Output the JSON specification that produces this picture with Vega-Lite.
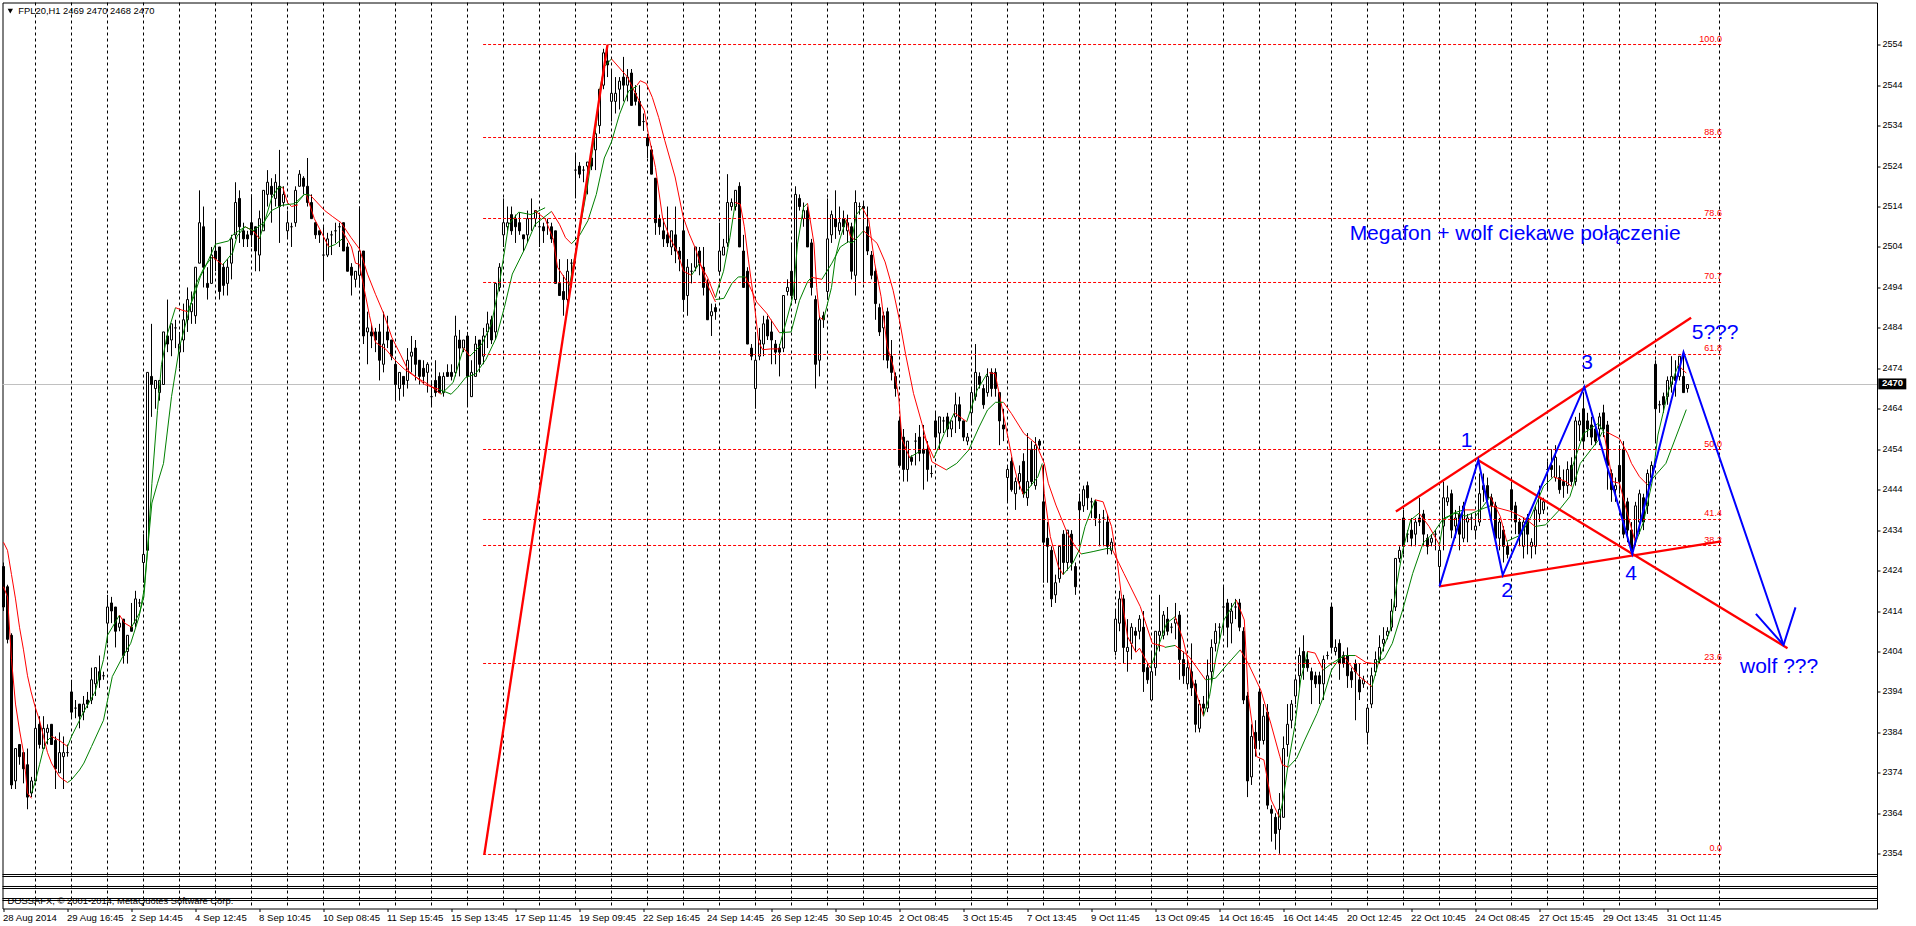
{"$schema":"https://vega.github.io/schema/vega-lite/v6.json","autosize":{"type":"none"},"padding":{"left":2.5,"top":2.5,"right":39,"bottom":17.5},"width":1874.5,"height":906,"background":"#ffffff","config":{"view":{"stroke":"#000000","strokeWidth":1},"font":"Liberation Sans"},
"datasets":{
"candles":[{"i":0,"o":2425,"h":2426,"l":2414,"c":2415},{"i":1,"o":2420,"h":2420.5,"l":2406,"c":2407},{"i":2,"o":2408,"h":2408.5,"l":2370,"c":2371},{"i":3,"o":2372,"h":2380,"l":2370,"c":2380},{"i":4,"o":2381,"h":2381,"l":2376,"c":2378},{"i":5,"o":2379,"h":2379,"l":2371.4,"c":2375},{"i":6,"o":2376,"h":2380,"l":2365,"c":2368},{"i":7,"o":2369,"h":2373,"l":2368,"c":2372},{"i":8,"o":2372,"h":2390,"l":2372,"c":2385},{"i":9,"o":2386,"h":2388,"l":2380,"c":2381},{"i":10,"o":2380,"h":2388,"l":2380,"c":2385},{"i":11,"o":2384,"h":2386,"l":2381,"c":2385},{"i":12,"o":2386,"h":2386,"l":2381,"c":2381},{"i":13,"o":2382,"h":2383,"l":2370,"c":2375},{"i":14,"o":2374,"h":2384,"l":2374,"c":2379},{"i":15,"o":2378,"h":2383,"l":2370,"c":2379},{"i":16,"o":2379,"h":2381,"l":2378,"c":2379},{"i":17,"o":2394,"h":2397,"l":2387.5,"c":2389},{"i":18,"o":2390,"h":2392,"l":2387.5,"c":2390},{"i":19,"o":2391,"h":2391,"l":2385,"c":2388},{"i":20,"o":2389,"h":2393,"l":2387,"c":2391},{"i":21,"o":2392,"h":2394,"l":2390,"c":2391},{"i":22,"o":2392,"h":2400,"l":2391,"c":2397},{"i":23,"o":2396,"h":2400,"l":2393,"c":2400},{"i":24,"o":2399,"h":2403,"l":2395,"c":2397},{"i":25,"o":2398,"h":2399,"l":2397,"c":2398},{"i":26,"o":2411,"h":2418,"l":2406,"c":2415},{"i":27,"o":2416,"h":2417.5,"l":2411,"c":2414},{"i":28,"o":2415,"h":2415,"l":2405,"c":2409},{"i":29,"o":2410,"h":2413,"l":2409,"c":2411},{"i":30,"o":2412,"h":2412,"l":2401,"c":2403},{"i":31,"o":2404,"h":2408,"l":2401,"c":2408},{"i":32,"o":2410,"h":2416,"l":2409,"c":2409},{"i":33,"o":2411,"h":2419,"l":2410,"c":2417},{"i":34,"o":2416,"h":2417,"l":2415,"c":2416},{"i":35,"o":2426,"h":2433,"l":2421,"c":2428},{"i":36,"o":2429,"h":2473,"l":2429,"c":2473},{"i":37,"o":2472,"h":2485,"l":2462,"c":2470},{"i":38,"o":2469,"h":2471,"l":2464,"c":2471},{"i":39,"o":2468,"h":2471,"l":2466,"c":2471},{"i":40,"o":2470,"h":2483,"l":2470,"c":2483},{"i":41,"o":2482,"h":2491,"l":2478,"c":2480},{"i":42,"o":2481,"h":2485,"l":2477,"c":2485},{"i":43,"o":2484,"h":2486,"l":2479,"c":2484},{"i":44,"o":2478,"h":2483,"l":2474,"c":2480},{"i":45,"o":2481,"h":2490,"l":2478,"c":2486},{"i":46,"o":2486,"h":2494,"l":2483,"c":2491},{"i":47,"o":2488,"h":2493,"l":2485,"c":2490},{"i":48,"o":2487,"h":2499,"l":2485,"c":2499},{"i":49,"o":2500,"h":2518,"l":2500,"c":2510},{"i":50,"o":2509,"h":2514,"l":2494,"c":2499},{"i":51,"o":2495,"h":2499,"l":2491,"c":2494},{"i":52,"o":2495,"h":2504,"l":2495,"c":2502},{"i":53,"o":2503,"h":2511,"l":2498,"c":2501},{"i":54,"o":2504,"h":2504,"l":2491,"c":2493},{"i":55,"o":2499,"h":2500,"l":2492,"c":2494.5},{"i":56,"o":2495,"h":2501,"l":2492,"c":2499},{"i":57,"o":2500,"h":2507,"l":2496,"c":2506},{"i":58,"o":2507,"h":2520,"l":2506,"c":2515},{"i":59,"o":2516,"h":2518,"l":2505,"c":2509},{"i":60,"o":2508,"h":2510,"l":2504,"c":2506},{"i":61,"o":2507,"h":2508,"l":2504,"c":2506},{"i":62,"o":2510,"h":2517,"l":2504,"c":2507},{"i":63,"o":2509,"h":2509,"l":2498,"c":2503},{"i":64,"o":2502,"h":2513,"l":2498,"c":2511},{"i":65,"o":2508,"h":2518,"l":2508,"c":2518},{"i":66,"o":2517,"h":2523,"l":2514,"c":2520},{"i":67,"o":2519,"h":2521,"l":2510,"c":2517},{"i":68,"o":2516,"h":2522,"l":2514,"c":2520},{"i":69,"o":2519,"h":2528,"l":2505,"c":2514},{"i":70,"o":2515,"h":2519,"l":2514,"c":2517},{"i":71,"o":2508,"h":2513,"l":2506,"c":2510},{"i":72,"o":2509,"h":2510,"l":2504,"c":2509},{"i":73,"o":2510,"h":2519,"l":2509,"c":2518},{"i":74,"o":2519,"h":2523,"l":2519,"c":2522},{"i":75,"o":2521,"h":2521.5,"l":2517,"c":2519},{"i":76,"o":2519,"h":2526,"l":2514,"c":2515},{"i":77,"o":2515,"h":2517,"l":2511,"c":2511},{"i":78,"o":2510,"h":2510,"l":2506,"c":2507},{"i":79,"o":2508,"h":2508,"l":2505,"c":2507},{"i":80,"o":2502,"h":2509,"l":2496,"c":2502},{"i":81,"o":2502,"h":2507.5,"l":2501.5,"c":2506},{"i":82,"o":2507,"h":2508,"l":2502,"c":2507},{"i":83,"o":2508,"h":2510,"l":2505,"c":2508},{"i":84,"o":2509,"h":2510,"l":2504,"c":2509},{"i":85,"o":2510,"h":2510,"l":2503,"c":2503},{"i":86,"o":2504,"h":2505,"l":2498,"c":2498},{"i":87,"o":2499,"h":2500,"l":2492,"c":2497},{"i":88,"o":2496,"h":2498,"l":2494,"c":2498},{"i":89,"o":2497,"h":2514,"l":2494,"c":2503},{"i":90,"o":2503,"h":2503,"l":2480,"c":2482},{"i":91,"o":2483,"h":2488,"l":2475,"c":2484},{"i":92,"o":2483,"h":2485,"l":2479,"c":2482},{"i":93,"o":2483,"h":2484,"l":2478,"c":2481},{"i":94,"o":2483,"h":2485,"l":2471,"c":2476},{"i":95,"o":2475,"h":2488,"l":2473,"c":2480},{"i":96,"o":2483,"h":2487,"l":2479,"c":2481},{"i":97,"o":2481,"h":2481,"l":2476,"c":2477},{"i":98,"o":2475,"h":2476,"l":2466,"c":2470},{"i":99,"o":2469,"h":2473,"l":2466,"c":2473},{"i":100,"o":2472,"h":2472,"l":2467,"c":2470},{"i":101,"o":2471,"h":2479,"l":2469,"c":2476},{"i":102,"o":2477,"h":2482,"l":2473,"c":2478},{"i":103,"o":2479,"h":2481,"l":2471,"c":2475},{"i":104,"o":2476,"h":2476,"l":2470,"c":2472},{"i":105,"o":2474,"h":2476,"l":2470,"c":2472},{"i":106,"o":2473,"h":2475.5,"l":2468,"c":2475},{"i":107,"o":2467,"h":2471,"l":2464.5,"c":2467},{"i":108,"o":2471,"h":2476,"l":2467,"c":2468},{"i":109,"o":2472,"h":2473,"l":2468,"c":2468},{"i":110,"o":2468,"h":2473,"l":2467,"c":2472},{"i":111,"o":2473,"h":2475,"l":2472,"c":2472},{"i":112,"o":2473,"h":2475,"l":2471,"c":2472},{"i":113,"o":2473,"h":2487,"l":2472,"c":2482},{"i":114,"o":2481,"h":2483.5,"l":2472,"c":2479},{"i":115,"o":2479,"h":2481,"l":2478,"c":2481},{"i":116,"o":2482,"h":2483,"l":2464.5,"c":2472},{"i":117,"o":2467,"h":2476,"l":2467,"c":2473},{"i":118,"o":2472,"h":2482,"l":2472,"c":2480},{"i":119,"o":2481,"h":2481,"l":2473,"c":2475},{"i":120,"o":2477,"h":2484,"l":2475,"c":2482},{"i":121,"o":2483,"h":2488,"l":2479,"c":2485},{"i":122,"o":2486,"h":2487,"l":2480,"c":2481},{"i":123,"o":2483,"h":2495,"l":2481,"c":2495},{"i":124,"o":2494,"h":2500,"l":2493,"c":2499},{"i":125,"o":2507,"h":2516,"l":2504,"c":2510},{"i":126,"o":2509,"h":2514,"l":2508,"c":2510},{"i":127,"o":2512,"h":2514,"l":2507,"c":2508},{"i":128,"o":2511,"h":2512,"l":2505,"c":2509},{"i":129,"o":2510,"h":2512.5,"l":2507,"c":2508},{"i":130,"o":2507,"h":2507,"l":2503,"c":2506},{"i":131,"o":2507,"h":2513,"l":2505,"c":2511},{"i":132,"o":2511,"h":2516,"l":2508,"c":2511},{"i":133,"o":2511,"h":2513,"l":2509,"c":2513},{"i":134,"o":2509,"h":2512,"l":2504,"c":2509},{"i":135,"o":2509,"h":2510,"l":2505,"c":2508},{"i":136,"o":2510,"h":2511,"l":2507,"c":2510},{"i":137,"o":2509,"h":2510,"l":2505,"c":2506},{"i":138,"o":2508,"h":2508,"l":2495,"c":2495},{"i":139,"o":2495,"h":2501,"l":2492,"c":2492},{"i":140,"o":2493,"h":2497,"l":2487,"c":2491},{"i":141,"o":2491,"h":2501,"l":2489,"c":2498},{"i":142,"o":2500,"h":2501,"l":2494,"c":2500},{"i":143,"o":2523,"h":2527,"l":2516,"c":2523},{"i":144,"o":2524,"h":2525,"l":2521,"c":2522},{"i":145,"o":2523,"h":2524,"l":2520,"c":2523},{"i":146,"o":2524,"h":2525,"l":2517,"c":2525},{"i":147,"o":2526,"h":2528,"l":2523,"c":2524},{"i":148,"o":2528,"h":2533,"l":2523,"c":2532},{"i":149,"o":2534,"h":2543,"l":2532,"c":2543},{"i":150,"o":2544,"h":2553,"l":2543,"c":2552},{"i":151,"o":2550,"h":2554,"l":2546,"c":2549},{"i":152,"o":2540,"h":2548,"l":2535,"c":2542},{"i":153,"o":2540,"h":2546,"l":2537,"c":2542},{"i":154,"o":2543,"h":2546,"l":2538,"c":2545},{"i":155,"o":2546,"h":2551,"l":2540,"c":2544},{"i":156,"o":2544,"h":2548,"l":2540,"c":2546},{"i":157,"o":2547,"h":2548,"l":2539,"c":2539},{"i":158,"o":2542,"h":2544,"l":2539,"c":2540},{"i":159,"o":2540,"h":2544,"l":2534,"c":2534},{"i":160,"o":2535,"h":2537,"l":2532.7,"c":2535},{"i":161,"o":2531,"h":2532,"l":2526,"c":2529},{"i":162,"o":2528,"h":2529,"l":2522,"c":2522},{"i":163,"o":2521,"h":2521,"l":2507,"c":2510},{"i":164,"o":2511,"h":2512,"l":2507,"c":2509},{"i":165,"o":2508,"h":2511,"l":2504,"c":2506},{"i":166,"o":2507,"h":2514,"l":2504,"c":2505},{"i":167,"o":2504,"h":2508,"l":2502,"c":2508},{"i":168,"o":2507,"h":2514,"l":2500,"c":2503},{"i":169,"o":2503,"h":2504,"l":2498,"c":2501},{"i":170,"o":2508,"h":2511,"l":2488,"c":2491},{"i":171,"o":2492,"h":2501,"l":2487,"c":2499},{"i":172,"o":2498,"h":2500,"l":2495,"c":2498},{"i":173,"o":2499,"h":2504,"l":2498,"c":2504},{"i":174,"o":2503,"h":2504,"l":2497,"c":2500},{"i":175,"o":2499,"h":2504,"l":2492,"c":2494},{"i":176,"o":2495,"h":2496,"l":2486,"c":2486},{"i":177,"o":2487,"h":2490,"l":2482,"c":2488},{"i":178,"o":2489,"h":2490,"l":2486,"c":2488},{"i":179,"o":2498,"h":2510,"l":2497,"c":2503},{"i":180,"o":2502,"h":2506,"l":2502,"c":2504},{"i":181,"o":2505,"h":2522,"l":2504,"c":2515},{"i":182,"o":2514,"h":2516,"l":2513,"c":2515},{"i":183,"o":2514,"h":2518,"l":2513,"c":2518},{"i":184,"o":2519,"h":2520,"l":2504,"c":2504},{"i":185,"o":2503,"h":2507,"l":2494,"c":2494},{"i":186,"o":2498,"h":2499,"l":2480,"c":2480},{"i":187,"o":2479,"h":2480,"l":2476,"c":2477},{"i":188,"o":2469,"h":2483,"l":2464,"c":2476},{"i":189,"o":2477,"h":2484,"l":2476,"c":2481},{"i":190,"o":2480,"h":2487,"l":2477,"c":2485},{"i":191,"o":2486,"h":2487,"l":2481,"c":2482},{"i":192,"o":2483,"h":2486,"l":2475,"c":2481},{"i":193,"o":2480,"h":2481,"l":2475,"c":2478},{"i":194,"o":2479,"h":2480,"l":2472,"c":2478},{"i":195,"o":2479,"h":2492,"l":2478,"c":2492},{"i":196,"o":2493,"h":2496,"l":2492,"c":2494},{"i":197,"o":2498,"h":2505,"l":2491,"c":2492},{"i":198,"o":2491,"h":2519,"l":2490,"c":2517},{"i":199,"o":2516,"h":2517,"l":2513,"c":2514},{"i":200,"o":2511,"h":2515,"l":2509,"c":2513},{"i":201,"o":2513,"h":2514,"l":2504,"c":2504},{"i":202,"o":2505,"h":2506,"l":2492,"c":2494},{"i":203,"o":2491,"h":2492,"l":2469,"c":2475},{"i":204,"o":2476,"h":2487,"l":2472,"c":2486},{"i":205,"o":2487,"h":2488,"l":2484,"c":2486},{"i":206,"o":2493,"h":2516,"l":2491,"c":2506},{"i":207,"o":2507,"h":2513,"l":2505,"c":2512},{"i":208,"o":2511,"h":2518,"l":2506,"c":2509},{"i":209,"o":2508,"h":2514,"l":2507,"c":2510},{"i":210,"o":2511,"h":2513,"l":2507,"c":2509},{"i":211,"o":2508,"h":2512,"l":2505,"c":2510},{"i":212,"o":2509,"h":2510,"l":2496,"c":2498},{"i":213,"o":2497,"h":2518,"l":2492,"c":2515},{"i":214,"o":2514,"h":2515,"l":2512,"c":2514},{"i":215,"o":2514,"h":2515,"l":2495,"c":2513.5},{"i":216,"o":2509,"h":2514,"l":2502,"c":2503},{"i":217,"o":2502,"h":2503,"l":2496,"c":2497},{"i":218,"o":2498,"h":2499,"l":2486,"c":2490},{"i":219,"o":2489,"h":2490,"l":2482,"c":2483},{"i":220,"o":2484,"h":2488,"l":2476,"c":2487},{"i":221,"o":2488,"h":2489,"l":2474,"c":2476},{"i":222,"o":2477,"h":2481,"l":2471,"c":2473},{"i":223,"o":2472,"h":2473,"l":2467,"c":2469},{"i":224,"o":2461,"h":2462,"l":2449.5,"c":2450},{"i":225,"o":2457,"h":2459,"l":2446,"c":2449},{"i":226,"o":2449,"h":2456,"l":2446,"c":2456},{"i":227,"o":2452,"h":2452.5,"l":2450,"c":2451},{"i":228,"o":2456,"h":2458,"l":2450,"c":2456},{"i":229,"o":2457,"h":2460,"l":2451,"c":2453},{"i":230,"o":2454,"h":2460,"l":2444,"c":2453},{"i":231,"o":2454,"h":2456,"l":2446,"c":2449},{"i":232,"o":2448,"h":2450,"l":2447,"c":2448},{"i":233,"o":2461,"h":2463,"l":2454,"c":2457},{"i":234,"o":2458,"h":2462,"l":2454,"c":2462},{"i":235,"o":2461,"h":2462,"l":2458,"c":2461},{"i":236,"o":2462,"h":2463,"l":2457,"c":2459},{"i":237,"o":2459,"h":2461,"l":2457,"c":2461},{"i":238,"o":2462,"h":2468,"l":2458,"c":2465},{"i":239,"o":2465,"h":2467,"l":2459,"c":2461},{"i":240,"o":2461,"h":2461,"l":2456,"c":2457},{"i":241,"o":2456,"h":2458,"l":2455,"c":2457},{"i":242,"o":2463,"h":2469,"l":2460,"c":2468},{"i":243,"o":2467,"h":2480,"l":2466,"c":2473},{"i":244,"o":2472,"h":2473,"l":2469,"c":2470},{"i":245,"o":2469,"h":2470,"l":2464,"c":2465},{"i":246,"o":2468,"h":2474,"l":2467,"c":2472},{"i":247,"o":2473,"h":2474,"l":2467,"c":2469},{"i":248,"o":2473,"h":2474,"l":2467,"c":2469},{"i":249,"o":2468,"h":2468,"l":2455,"c":2461},{"i":250,"o":2460,"h":2464,"l":2456,"c":2459},{"i":251,"o":2447,"h":2450,"l":2441,"c":2449},{"i":252,"o":2451,"h":2452,"l":2443.5,"c":2444},{"i":253,"o":2443,"h":2447,"l":2439,"c":2446},{"i":254,"o":2446,"h":2450,"l":2444,"c":2448},{"i":255,"o":2451,"h":2453,"l":2442,"c":2443},{"i":256,"o":2442,"h":2458,"l":2440,"c":2446},{"i":257,"o":2454,"h":2456,"l":2445,"c":2446},{"i":258,"o":2445,"h":2457,"l":2444,"c":2455},{"i":259,"o":2456,"h":2456.5,"l":2454,"c":2455},{"i":260,"o":2441,"h":2450,"l":2421,"c":2431},{"i":261,"o":2432,"h":2436,"l":2421,"c":2430},{"i":262,"o":2429,"h":2430,"l":2415,"c":2417},{"i":263,"o":2418,"h":2423,"l":2416,"c":2421},{"i":264,"o":2422,"h":2430,"l":2421,"c":2430},{"i":265,"o":2433,"h":2434,"l":2423,"c":2426},{"i":266,"o":2426,"h":2434,"l":2424,"c":2434},{"i":267,"o":2433,"h":2434,"l":2424,"c":2426},{"i":268,"o":2425,"h":2426,"l":2418,"c":2420},{"i":269,"o":2441,"h":2443,"l":2430,"c":2439},{"i":270,"o":2440,"h":2445,"l":2438.5,"c":2444},{"i":271,"o":2445,"h":2446,"l":2439,"c":2442},{"i":272,"o":2441,"h":2442,"l":2437,"c":2441},{"i":273,"o":2441,"h":2441.5,"l":2435,"c":2437},{"i":274,"o":2436,"h":2438,"l":2430,"c":2436},{"i":275,"o":2437,"h":2439,"l":2430,"c":2437},{"i":276,"o":2436,"h":2438,"l":2428,"c":2430},{"i":277,"o":2429,"h":2432,"l":2428,"c":2431},{"i":278,"o":2404,"h":2414,"l":2403,"c":2412},{"i":279,"o":2411,"h":2419,"l":2409,"c":2417},{"i":280,"o":2417,"h":2418,"l":2401,"c":2405},{"i":281,"o":2404,"h":2412,"l":2399,"c":2405},{"i":282,"o":2406,"h":2411,"l":2402,"c":2410},{"i":283,"o":2409,"h":2410,"l":2404,"c":2408},{"i":284,"o":2409,"h":2413,"l":2407,"c":2412},{"i":285,"o":2410,"h":2414,"l":2394,"c":2399},{"i":286,"o":2400,"h":2401,"l":2396,"c":2397},{"i":287,"o":2392,"h":2404,"l":2392,"c":2399},{"i":288,"o":2400,"h":2409,"l":2398,"c":2409},{"i":289,"o":2408,"h":2418,"l":2404,"c":2409},{"i":290,"o":2408,"h":2414,"l":2407,"c":2413},{"i":291,"o":2412,"h":2415,"l":2408,"c":2409},{"i":292,"o":2410,"h":2411,"l":2408.5,"c":2410},{"i":293,"o":2411,"h":2416,"l":2407,"c":2412},{"i":294,"o":2413,"h":2414,"l":2397,"c":2402},{"i":295,"o":2402,"h":2404,"l":2396,"c":2398},{"i":296,"o":2396,"h":2402,"l":2395,"c":2400},{"i":297,"o":2399,"h":2406,"l":2393,"c":2395},{"i":298,"o":2396,"h":2397,"l":2384,"c":2386},{"i":299,"o":2385,"h":2392,"l":2384,"c":2391},{"i":300,"o":2391,"h":2393,"l":2388,"c":2390},{"i":301,"o":2390,"h":2402,"l":2389,"c":2398},{"i":302,"o":2399,"h":2407,"l":2396,"c":2405},{"i":303,"o":2406,"h":2411,"l":2404,"c":2409},{"i":304,"o":2410,"h":2411,"l":2406,"c":2410},{"i":305,"o":2415,"h":2420,"l":2408,"c":2415},{"i":306,"o":2416,"h":2417,"l":2405,"c":2410},{"i":307,"o":2411,"h":2416,"l":2406,"c":2414},{"i":308,"o":2415,"h":2417,"l":2412,"c":2415},{"i":309,"o":2416,"h":2417,"l":2409,"c":2410},{"i":310,"o":2409,"h":2410,"l":2391,"c":2392},{"i":311,"o":2393,"h":2394,"l":2368,"c":2372},{"i":312,"o":2373,"h":2386,"l":2371,"c":2383},{"i":313,"o":2384,"h":2387,"l":2378,"c":2380},{"i":314,"o":2394,"h":2395,"l":2380,"c":2382},{"i":315,"o":2382,"h":2391,"l":2381,"c":2388},{"i":316,"o":2389,"h":2391,"l":2365,"c":2366},{"i":317,"o":2365,"h":2366,"l":2357,"c":2364},{"i":318,"o":2363,"h":2364,"l":2355,"c":2359},{"i":319,"o":2360,"h":2369,"l":2354,"c":2365},{"i":320,"o":2363,"h":2383,"l":2363,"c":2380},{"i":321,"o":2381,"h":2391,"l":2378,"c":2386},{"i":322,"o":2387,"h":2392,"l":2385,"c":2391},{"i":323,"o":2393,"h":2398,"l":2391,"c":2397},{"i":324,"o":2398,"h":2405,"l":2395,"c":2403},{"i":325,"o":2404,"h":2408,"l":2397,"c":2400},{"i":326,"o":2402,"h":2404,"l":2399,"c":2400},{"i":327,"o":2399,"h":2400,"l":2391,"c":2397},{"i":328,"o":2398,"h":2399,"l":2395,"c":2396},{"i":329,"o":2398,"h":2399,"l":2391,"c":2396},{"i":330,"o":2396,"h":2403,"l":2392,"c":2402},{"i":331,"o":2403,"h":2404,"l":2402,"c":2403},{"i":332,"o":2415,"h":2415.5,"l":2404,"c":2405},{"i":333,"o":2404,"h":2407,"l":2403,"c":2405},{"i":334,"o":2406,"h":2407,"l":2397,"c":2401},{"i":335,"o":2403,"h":2404,"l":2400,"c":2401},{"i":336,"o":2403,"h":2405,"l":2395,"c":2398},{"i":337,"o":2399,"h":2400,"l":2395,"c":2397},{"i":338,"o":2401,"h":2402,"l":2387,"c":2399},{"i":339,"o":2397,"h":2401,"l":2392,"c":2394},{"i":340,"o":2396,"h":2398,"l":2395,"c":2397},{"i":341,"o":2384,"h":2391,"l":2381,"c":2390},{"i":342,"o":2391,"h":2400,"l":2390,"c":2398},{"i":343,"o":2399,"h":2404,"l":2398,"c":2402},{"i":344,"o":2402,"h":2408,"l":2401,"c":2405},{"i":345,"o":2406,"h":2410,"l":2404,"c":2407},{"i":346,"o":2408,"h":2410,"l":2407,"c":2409},{"i":347,"o":2410,"h":2417,"l":2409,"c":2414},{"i":348,"o":2415,"h":2427,"l":2414,"c":2427},{"i":349,"o":2427,"h":2430,"l":2426,"c":2429},{"i":350,"o":2437,"h":2439,"l":2428,"c":2430},{"i":351,"o":2433,"h":2434,"l":2431,"c":2433},{"i":352,"o":2434,"h":2437,"l":2430,"c":2432},{"i":353,"o":2433,"h":2437,"l":2430,"c":2436},{"i":354,"o":2437,"h":2442,"l":2435,"c":2436},{"i":355,"o":2438,"h":2439,"l":2430,"c":2433},{"i":356,"o":2432,"h":2433,"l":2428,"c":2430},{"i":357,"o":2431,"h":2433,"l":2430,"c":2432},{"i":358,"o":2433,"h":2434,"l":2429,"c":2433},{"i":359,"o":2425,"h":2431,"l":2420,"c":2429},{"i":360,"o":2435,"h":2446,"l":2429,"c":2442},{"i":361,"o":2441,"h":2445,"l":2440,"c":2442},{"i":362,"o":2443,"h":2444,"l":2432,"c":2434},{"i":363,"o":2435,"h":2439,"l":2432,"c":2437},{"i":364,"o":2438,"h":2440,"l":2429,"c":2433},{"i":365,"o":2432,"h":2441,"l":2431,"c":2440},{"i":366,"o":2436,"h":2438,"l":2431,"c":2437},{"i":367,"o":2437,"h":2438,"l":2434,"c":2437},{"i":368,"o":2434,"h":2438,"l":2432,"c":2435},{"i":369,"o":2436,"h":2448,"l":2435,"c":2443},{"i":370,"o":2445,"h":2448,"l":2441,"c":2444},{"i":371,"o":2445,"h":2447,"l":2441,"c":2442},{"i":372,"o":2442,"h":2443,"l":2436,"c":2440},{"i":373,"o":2440,"h":2441,"l":2431,"c":2432},{"i":374,"o":2432,"h":2437,"l":2429,"c":2436},{"i":375,"o":2434,"h":2435,"l":2426,"c":2430},{"i":376,"o":2430,"h":2431,"l":2427,"c":2428},{"i":377,"o":2444,"h":2446,"l":2437,"c":2439},{"i":378,"o":2440,"h":2441,"l":2433,"c":2436},{"i":379,"o":2436,"h":2437,"l":2430,"c":2433},{"i":380,"o":2430,"h":2437,"l":2427,"c":2436},{"i":381,"o":2437,"h":2438,"l":2428,"c":2433},{"i":382,"o":2430,"h":2432,"l":2427,"c":2431},{"i":383,"o":2430,"h":2440,"l":2428,"c":2439},{"i":384,"o":2438,"h":2445,"l":2436,"c":2442},{"i":385,"o":2439,"h":2442,"l":2438,"c":2441},{"i":386,"o":2449,"h":2451,"l":2444,"c":2449},{"i":387,"o":2450,"h":2454,"l":2447,"c":2449},{"i":388,"o":2447,"h":2455,"l":2446,"c":2452},{"i":389,"o":2447,"h":2450,"l":2443,"c":2444},{"i":390,"o":2446,"h":2449,"l":2442,"c":2445},{"i":391,"o":2445,"h":2451,"l":2443,"c":2449},{"i":392,"o":2450,"h":2452,"l":2445,"c":2446},{"i":393,"o":2446,"h":2462,"l":2445,"c":2461},{"i":394,"o":2460,"h":2463,"l":2456,"c":2461},{"i":395,"o":2464,"h":2468,"l":2454,"c":2456},{"i":396,"o":2461,"h":2463,"l":2457,"c":2459},{"i":397,"o":2460,"h":2462,"l":2455,"c":2457},{"i":398,"o":2459,"h":2460,"l":2455,"c":2456},{"i":399,"o":2459,"h":2463,"l":2455,"c":2462},{"i":400,"o":2463,"h":2465,"l":2457,"c":2459},{"i":401,"o":2460,"h":2461,"l":2444,"c":2450},{"i":402,"o":2448,"h":2449,"l":2441,"c":2444},{"i":403,"o":2444,"h":2447,"l":2441,"c":2445},{"i":404,"o":2450,"h":2455,"l":2443,"c":2446},{"i":405,"o":2454,"h":2456,"l":2432,"c":2433},{"i":406,"o":2441,"h":2442,"l":2431,"c":2434},{"i":407,"o":2434,"h":2436,"l":2428,"c":2429},{"i":408,"o":2432,"h":2441,"l":2430,"c":2440},{"i":409,"o":2436,"h":2444,"l":2433,"c":2443},{"i":410,"o":2442,"h":2443,"l":2434,"c":2436},{"i":411,"o":2440,"h":2449,"l":2438,"c":2448},{"i":412,"o":2447,"h":2451,"l":2446,"c":2450},{"i":413,"o":2475,"h":2476,"l":2456,"c":2464},{"i":414,"o":2465,"h":2466,"l":2463,"c":2465},{"i":415,"o":2467,"h":2468,"l":2463,"c":2465},{"i":416,"o":2467,"h":2472,"l":2465,"c":2471},{"i":417,"o":2470,"h":2477,"l":2468,"c":2472},{"i":418,"o":2472,"h":2476,"l":2467,"c":2471},{"i":419,"o":2472,"h":2477,"l":2471,"c":2477},{"i":420,"o":2472,"h":2478,"l":2468,"c":2468},{"i":421,"o":2469,"h":2470,"l":2468,"c":2470}],
"ma":[{"s":"a1","d":"r","i":0,"p":2420},{"s":"a1","d":"r","i":1,"p":2417.5},{"s":"a1","d":"r","i":2,"p":2402},{"s":"a1","d":"r","i":3,"p":2391},{"s":"a1","d":"r","i":4,"p":2384.6},{"s":"a1","d":"r","i":5,"p":2379},{"s":"a1","d":"r","i":6,"p":2369},{"s":"a1","d":"r","i":7,"p":2367.7},
{"s":"a2","d":"g","i":7,"p":2369},{"s":"a2","d":"g","i":8,"p":2372},{"s":"a2","d":"g","i":9,"p":2376},{"s":"a2","d":"g","i":10,"p":2380},{"s":"a2","d":"g","i":11,"p":2382},{"s":"a2","d":"g","i":12,"p":2383},
{"s":"a3","d":"r","i":12,"p":2383},{"s":"a3","d":"r","i":14,"p":2382},{"s":"a3","d":"r","i":16,"p":2380.5},
{"s":"a4","d":"g","i":16,"p":2380.5},{"s":"a4","d":"g","i":17,"p":2383},{"s":"a4","d":"g","i":20,"p":2389},{"s":"a4","d":"g","i":22.9,"p":2394},{"s":"a4","d":"g","i":25,"p":2402},{"s":"a4","d":"g","i":26,"p":2408},{"s":"a4","d":"g","i":27.2,"p":2410},{"s":"a4","d":"g","i":29,"p":2413},
{"s":"a5","d":"r","i":29,"p":2413},{"s":"a5","d":"r","i":30.3,"p":2411},{"s":"a5","d":"r","i":32,"p":2410},
{"s":"a6","d":"g","i":32,"p":2410},{"s":"a6","d":"g","i":34,"p":2413.5},{"s":"a6","d":"g","i":35.1,"p":2417.5},{"s":"a6","d":"g","i":36,"p":2429},{"s":"a6","d":"g","i":37.1,"p":2445.5},{"s":"a6","d":"g","i":38.5,"p":2463.6},{"s":"a6","d":"g","i":39.5,"p":2475},{"s":"a6","d":"g","i":41,"p":2482.6},{"s":"a6","d":"g","i":43,"p":2489},
{"s":"a7","d":"r","i":43,"p":2489},{"s":"a7","d":"r","i":44.6,"p":2488.4},{"s":"a7","d":"r","i":46,"p":2488},
{"s":"a8","d":"g","i":46,"p":2488},{"s":"a8","d":"g","i":47.6,"p":2491.7},{"s":"a8","d":"g","i":49.2,"p":2496.6},{"s":"a8","d":"g","i":51.2,"p":2500.7},{"s":"a8","d":"g","i":53,"p":2504.7},{"s":"a8","d":"g","i":56.3,"p":2505.5},{"s":"a8","d":"g","i":57.3,"p":2507},{"s":"a8","d":"g","i":60.4,"p":2509},
{"s":"a9","d":"r","i":60.4,"p":2509},{"s":"a9","d":"r","i":62.4,"p":2508},{"s":"a9","d":"r","i":64,"p":2506},
{"s":"a10","d":"g","i":64,"p":2506},{"s":"a10","d":"g","i":65.5,"p":2511},{"s":"a10","d":"g","i":67,"p":2516},{"s":"a10","d":"g","i":68.6,"p":2518.6},{"s":"a10","d":"g","i":69.8,"p":2518.8},
{"s":"a11","d":"r","i":69.8,"p":2518.8},{"s":"a11","d":"r","i":71,"p":2515},{"s":"a11","d":"r","i":72,"p":2514},{"s":"a11","d":"r","i":73.6,"p":2514.4},
{"s":"a12","d":"g","i":73,"p":2514.4},{"s":"a12","d":"g","i":75.2,"p":2517},
{"s":"a13","d":"r","i":75.7,"p":2517},{"s":"a13","d":"r","i":77.7,"p":2511},{"s":"a13","d":"r","i":79.8,"p":2507},{"s":"a13","d":"r","i":81.3,"p":2504},
{"s":"a14","d":"g","i":81.3,"p":2504},{"s":"a14","d":"g","i":82.9,"p":2504.6},{"s":"a14","d":"g","i":84.7,"p":2506},
{"s":"a15","d":"r","i":84.7,"p":2508},{"s":"a15","d":"r","i":87,"p":2504},{"s":"a15","d":"r","i":88,"p":2500},{"s":"a15","d":"r","i":89,"p":2499.7},{"s":"a15","d":"r","i":90,"p":2494.5},{"s":"a15","d":"r","i":91.5,"p":2487},{"s":"a15","d":"r","i":93,"p":2480.4},{"s":"a15","d":"r","i":95.6,"p":2478.7},{"s":"a15","d":"r","i":97.7,"p":2476.2},{"s":"a15","d":"r","i":100.2,"p":2473.8},{"s":"a15","d":"r","i":103.3,"p":2471.7},{"s":"a15","d":"r","i":106.3,"p":2470},{"s":"a15","d":"r","i":109.4,"p":2467.6},
{"s":"a16","d":"g","i":109.4,"p":2467.6},{"s":"a16","d":"g","i":112.4,"p":2470.5},{"s":"a16","d":"g","i":115,"p":2479},
{"s":"a17","d":"r","i":115,"p":2479},{"s":"a17","d":"r","i":116.6,"p":2477},
{"s":"a18","d":"g","i":116.6,"p":2477},{"s":"a18","d":"g","i":119.6,"p":2480},{"s":"a18","d":"g","i":122,"p":2485},{"s":"a18","d":"g","i":124,"p":2495},{"s":"a18","d":"g","i":126.3,"p":2509.6},{"s":"a18","d":"g","i":128.8,"p":2512.6},{"s":"a18","d":"g","i":131.9,"p":2512},{"s":"a18","d":"g","i":135.4,"p":2513.7},
{"s":"a19","d":"r","i":132.8,"p":2513},{"s":"a19","d":"r","i":135.4,"p":2511},{"s":"a19","d":"r","i":137.4,"p":2506},{"s":"a19","d":"r","i":138.5,"p":2499},{"s":"a19","d":"r","i":141.5,"p":2494.5},
{"s":"a20","d":"g","i":141.5,"p":2494.5},{"s":"a20","d":"g","i":144,"p":2508},{"s":"a20","d":"g","i":146,"p":2519},{"s":"a20","d":"g","i":148.2,"p":2534.5},{"s":"a20","d":"g","i":149.2,"p":2543.6},{"s":"a20","d":"g","i":150.2,"p":2548.6},{"s":"a20","d":"g","i":152,"p":2550.5},
{"s":"a21","d":"r","i":152,"p":2550.5},{"s":"a21","d":"r","i":156,"p":2546},{"s":"a21","d":"r","i":159.2,"p":2539.5},{"s":"a21","d":"r","i":160.2,"p":2537.8},{"s":"a21","d":"r","i":161.2,"p":2532},{"s":"a21","d":"r","i":163,"p":2523.6},{"s":"a21","d":"r","i":164.8,"p":2511},{"s":"a21","d":"r","i":166.7,"p":2506},{"s":"a21","d":"r","i":168.4,"p":2503},{"s":"a21","d":"r","i":170,"p":2498},{"s":"a21","d":"r","i":172,"p":2497},
{"s":"a22","d":"g","i":172,"p":2497},{"s":"a22","d":"g","i":174,"p":2500},
{"s":"a23","d":"r","i":174,"p":2500},{"s":"a23","d":"r","i":176,"p":2496.5},{"s":"a23","d":"r","i":178,"p":2491.5},
{"s":"a24","d":"g","i":178,"p":2491.5},{"s":"a24","d":"g","i":179,"p":2495},{"s":"a24","d":"g","i":180,"p":2498},{"s":"a24","d":"g","i":181.6,"p":2506.3},{"s":"a24","d":"g","i":182.9,"p":2514.6},
{"s":"a25","d":"r","i":182.9,"p":2515},{"s":"a25","d":"r","i":184.2,"p":2514.6},{"s":"a25","d":"r","i":185.2,"p":2509},{"s":"a25","d":"r","i":186.2,"p":2501},{"s":"a25","d":"r","i":187.7,"p":2490},{"s":"a25","d":"r","i":188.8,"p":2480.4},{"s":"a25","d":"r","i":189.8,"p":2478.6},{"s":"a25","d":"r","i":191.8,"p":2478.8},{"s":"a25","d":"r","i":194,"p":2478.8},
{"s":"a26","d":"g","i":194,"p":2479.5},{"s":"a26","d":"g","i":195.9,"p":2486.4},{"s":"a26","d":"g","i":197.4,"p":2492},{"s":"a26","d":"g","i":198.5,"p":2504.7},{"s":"a26","d":"g","i":200,"p":2513.8},{"s":"a26","d":"g","i":201,"p":2514.8},
{"s":"a27","d":"r","i":201,"p":2514.8},{"s":"a27","d":"r","i":202.6,"p":2505},{"s":"a27","d":"r","i":203.3,"p":2494},{"s":"a27","d":"r","i":204,"p":2486.6},{"s":"a27","d":"r","i":205,"p":2486},
{"s":"a28","d":"g","i":205,"p":2486},{"s":"a28","d":"g","i":207,"p":2494},{"s":"a28","d":"g","i":208,"p":2501.5},{"s":"a28","d":"g","i":209,"p":2505.7},{"s":"a28","d":"g","i":210.7,"p":2510.8},
{"s":"a29","d":"r","i":210.7,"p":2510.8},{"s":"a29","d":"r","i":211.7,"p":2506.7},{"s":"a29","d":"r","i":212.7,"p":2505.8},
{"s":"a30","d":"g","i":212.2,"p":2506.3},{"s":"a30","d":"g","i":213.2,"p":2512},{"s":"a30","d":"g","i":214.7,"p":2513.7},
{"s":"a31","d":"r","i":214.7,"p":2513.7},{"s":"a31","d":"r","i":216.3,"p":2510.8},{"s":"a31","d":"r","i":217.8,"p":2500},{"s":"a31","d":"r","i":219.4,"p":2491.7},{"s":"a31","d":"r","i":220.9,"p":2479.5},{"s":"a31","d":"r","i":222.4,"p":2474.6},{"s":"a31","d":"r","i":223.8,"p":2467},{"s":"a31","d":"r","i":224.6,"p":2456.5},{"s":"a31","d":"r","i":226.6,"p":2451.8},
{"s":"a32","d":"g","i":226.6,"p":2452},{"s":"a32","d":"g","i":229.1,"p":2453.5},
{"s":"a33","d":"r","i":230,"p":2457.5},{"s":"a33","d":"r","i":232.6,"p":2451.8},
{"s":"a34","d":"g","i":232.6,"p":2451.8},{"s":"a34","d":"g","i":235.2,"p":2457.9},{"s":"a34","d":"g","i":237.7,"p":2463},
{"s":"a35","d":"r","i":237.7,"p":2463},{"s":"a35","d":"r","i":240.8,"p":2460.8},
{"s":"a36","d":"g","i":240.8,"p":2460.8},{"s":"a36","d":"g","i":243.4,"p":2468.6},{"s":"a36","d":"g","i":245.9,"p":2472.7},
{"s":"a37","d":"r","i":246.4,"p":2472.9},{"s":"a37","d":"r","i":247.9,"p":2472.7},{"s":"a37","d":"r","i":250.4,"p":2460.5},{"s":"a37","d":"r","i":252.2,"p":2451.5},{"s":"a37","d":"r","i":253.5,"p":2446.4},{"s":"a37","d":"r","i":255,"p":2442.7},
{"s":"a38","d":"g","i":255,"p":2442.7},{"s":"a38","d":"g","i":258.6,"p":2447.2},{"s":"a38","d":"g","i":259.7,"p":2450.5},
{"s":"a39","d":"r","i":259.7,"p":2450},{"s":"a39","d":"r","i":260.2,"p":2443},{"s":"a39","d":"r","i":261.7,"p":2432.4},{"s":"a39","d":"r","i":263.7,"p":2425},{"s":"a39","d":"r","i":264.9,"p":2423},
{"s":"a40","d":"g","i":264.9,"p":2423},{"s":"a40","d":"g","i":267.3,"p":2425.8},{"s":"a40","d":"g","i":268.9,"p":2429},{"s":"a40","d":"g","i":270.4,"p":2434.9},{"s":"a40","d":"g","i":272.9,"p":2441.5},
{"s":"a41","d":"r","i":272.9,"p":2441.5},{"s":"a41","d":"r","i":274.9,"p":2441},{"s":"a41","d":"r","i":277,"p":2434.9},{"s":"a41","d":"r","i":278.5,"p":2425.8},{"s":"a41","d":"r","i":279.5,"p":2417.6},{"s":"a41","d":"r","i":281,"p":2407.7},{"s":"a41","d":"r","i":283.1,"p":2403.8},{"s":"a41","d":"r","i":284,"p":2404.8},{"s":"a41","d":"r","i":286.7,"p":2399.9},
{"s":"a42","d":"g","i":286.7,"p":2399.9},{"s":"a42","d":"g","i":289.3,"p":2406.9},{"s":"a42","d":"g","i":290.8,"p":2411},{"s":"a42","d":"g","i":292.9,"p":2412.6},
{"s":"a43","d":"r","i":292.9,"p":2412.6},{"s":"a43","d":"r","i":294.9,"p":2406.9},{"s":"a43","d":"r","i":297.5,"p":2396},{"s":"a43","d":"r","i":300,"p":2388},
{"s":"a44","d":"g","i":300,"p":2388},{"s":"a44","d":"g","i":301.5,"p":2392.9},{"s":"a44","d":"g","i":303,"p":2401.9},{"s":"a44","d":"g","i":305.1,"p":2411.8},{"s":"a44","d":"g","i":308.2,"p":2416.7},
{"s":"a45","d":"r","i":308.2,"p":2416.7},{"s":"a45","d":"r","i":310.2,"p":2411.8},{"s":"a45","d":"r","i":311.2,"p":2392.9},{"s":"a45","d":"r","i":313.3,"p":2378},{"s":"a45","d":"r","i":315.1,"p":2377.2},{"s":"a45","d":"r","i":316.9,"p":2367.3},{"s":"a45","d":"r","i":319,"p":2363},
{"s":"a46","d":"g","i":319,"p":2363},{"s":"a46","d":"g","i":320,"p":2368},{"s":"a46","d":"g","i":321.2,"p":2376.4},{"s":"a46","d":"g","i":322.8,"p":2385.4},{"s":"a46","d":"g","i":324.3,"p":2397},{"s":"a46","d":"g","i":325.3,"p":2401},{"s":"a46","d":"g","i":326,"p":2404},
{"s":"a47","d":"r","i":326,"p":2404},{"s":"a47","d":"r","i":327.9,"p":2403.6},{"s":"a47","d":"r","i":329.9,"p":2399.4},
{"s":"a48","d":"g","i":329.9,"p":2399.4},{"s":"a48","d":"g","i":332,"p":2401},{"s":"a48","d":"g","i":335,"p":2402.9},
{"s":"a49","d":"r","i":335,"p":2402.9},{"s":"a49","d":"r","i":337,"p":2400.3},{"s":"a49","d":"r","i":339,"p":2397.8},{"s":"a49","d":"r","i":342.1,"p":2395.3},
{"s":"a50","d":"g","i":342.1,"p":2395.3},{"s":"a50","d":"g","i":344.2,"p":2402.9},{"s":"a50","d":"g","i":346.7,"p":2409.3},{"s":"a50","d":"g","i":348.2,"p":2420},{"s":"a50","d":"g","i":349.8,"p":2429},{"s":"a50","d":"g","i":351.8,"p":2436.5},{"s":"a50","d":"g","i":353.9,"p":2438.2},
{"s":"a51","d":"r","i":353.9,"p":2438.2},{"s":"a51","d":"r","i":356.4,"p":2434.9},{"s":"a51","d":"r","i":359,"p":2430.3},
{"s":"a52","d":"g","i":359,"p":2430.3},{"s":"a52","d":"g","i":360,"p":2436.5},{"s":"a52","d":"g","i":362.5,"p":2438.2},{"s":"a52","d":"g","i":365,"p":2439},
{"s":"a53","d":"r","i":365,"p":2439},{"s":"a53","d":"r","i":368,"p":2439},
{"s":"a54","d":"g","i":368,"p":2437.4},{"s":"a54","d":"g","i":371.7,"p":2442.3},
{"s":"a55","d":"r","i":371.7,"p":2442.3},{"s":"a55","d":"r","i":374.2,"p":2437.4},{"s":"a55","d":"r","i":375.8,"p":2431.2},
{"s":"a56","d":"g","i":375.8,"p":2431.2},{"s":"a56","d":"g","i":379.3,"p":2432.8},{"s":"a56","d":"g","i":381.9,"p":2437.4},{"s":"a56","d":"g","i":385,"p":2444.8},{"s":"a56","d":"g","i":387.5,"p":2447.2},
{"s":"a57","d":"r","i":387.5,"p":2447.2},{"s":"a57","d":"r","i":390.6,"p":2446},{"s":"a57","d":"r","i":392,"p":2444.8},
{"s":"a58","d":"g","i":392,"p":2449},{"s":"a58","d":"g","i":395,"p":2457.9},{"s":"a58","d":"g","i":398.7,"p":2460.4},{"s":"a58","d":"g","i":400.2,"p":2458},
{"s":"a59","d":"r","i":400.2,"p":2457.5},{"s":"a59","d":"r","i":402.3,"p":2446},{"s":"a59","d":"r","i":404,"p":2445.6},{"s":"a59","d":"r","i":406,"p":2438},{"s":"a59","d":"r","i":408,"p":2430.8},
{"s":"a60","d":"g","i":408,"p":2430.8},{"s":"a60","d":"g","i":410,"p":2436},{"s":"a60","d":"g","i":412.1,"p":2445.6},{"s":"a60","d":"g","i":413.6,"p":2457.5},{"s":"a60","d":"g","i":416.1,"p":2468},{"s":"a60","d":"g","i":418.7,"p":2474.8},
{"s":"a61","d":"r","i":418.7,"p":2474.8},{"s":"a61","d":"r","i":420.7,"p":2472.8},
{"s":"b1","d":"r","i":0,"p":2431},{"s":"b1","d":"r","i":1,"p":2429},{"s":"b1","d":"r","i":2,"p":2423},{"s":"b1","d":"r","i":3,"p":2417},{"s":"b1","d":"r","i":4,"p":2410},{"s":"b1","d":"r","i":5,"p":2404.4},{"s":"b1","d":"r","i":6,"p":2398},{"s":"b1","d":"r","i":6.9,"p":2394},{"s":"b1","d":"r","i":8,"p":2390},{"s":"b1","d":"r","i":9,"p":2387},{"s":"b1","d":"r","i":10,"p":2383},{"s":"b1","d":"r","i":11,"p":2379},{"s":"b1","d":"r","i":12,"p":2376.4},{"s":"b1","d":"r","i":13,"p":2374.7},{"s":"b1","d":"r","i":14,"p":2373},{"s":"b1","d":"r","i":15,"p":2372.3},{"s":"b1","d":"r","i":16,"p":2371.6},
{"s":"b2","d":"g","i":16,"p":2371.6},{"s":"b2","d":"g","i":17,"p":2372.3},{"s":"b2","d":"g","i":19,"p":2374.7},{"s":"b2","d":"g","i":20.1,"p":2376.4},{"s":"b2","d":"g","i":22,"p":2380.5},{"s":"b2","d":"g","i":25,"p":2387},{"s":"b2","d":"g","i":26.2,"p":2392.9},{"s":"b2","d":"g","i":27.2,"p":2397.8},{"s":"b2","d":"g","i":29.8,"p":2402.7},{"s":"b2","d":"g","i":31.8,"p":2406},{"s":"b2","d":"g","i":33.9,"p":2412.6},{"s":"b2","d":"g","i":35.1,"p":2419},{"s":"b2","d":"g","i":36.1,"p":2430},{"s":"b2","d":"g","i":37.1,"p":2440.7},{"s":"b2","d":"g","i":38.5,"p":2445.6},{"s":"b2","d":"g","i":40,"p":2450.5},{"s":"b2","d":"g","i":42,"p":2467},{"s":"b2","d":"g","i":44,"p":2479.3},{"s":"b2","d":"g","i":46,"p":2486.7},{"s":"b2","d":"g","i":48.2,"p":2495},{"s":"b2","d":"g","i":50.2,"p":2499},{"s":"b2","d":"g","i":52.2,"p":2501.6},
{"s":"b3","d":"r","i":52.2,"p":2501.6},{"s":"b3","d":"r","i":54.8,"p":2499.6},
{"s":"b4","d":"g","i":54.8,"p":2499.6},{"s":"b4","d":"g","i":57.3,"p":2502.6},{"s":"b4","d":"g","i":58.4,"p":2506.7},{"s":"b4","d":"g","i":60.4,"p":2509},{"s":"b4","d":"g","i":62.4,"p":2508},{"s":"b4","d":"g","i":65,"p":2510},{"s":"b4","d":"g","i":67,"p":2513},{"s":"b4","d":"g","i":69.6,"p":2514.3},{"s":"b4","d":"g","i":72.7,"p":2514.7},{"s":"b4","d":"g","i":75.2,"p":2517},{"s":"b4","d":"g","i":76.7,"p":2516.8},
{"s":"b5","d":"r","i":76.7,"p":2516.8},{"s":"b5","d":"r","i":80.3,"p":2513},{"s":"b5","d":"r","i":82.3,"p":2511.5},{"s":"b5","d":"r","i":84.4,"p":2510},{"s":"b5","d":"r","i":86.9,"p":2506.3},{"s":"b5","d":"r","i":89,"p":2503.5},{"s":"b5","d":"r","i":91,"p":2497.3},{"s":"b5","d":"r","i":93,"p":2492.3},{"s":"b5","d":"r","i":95.1,"p":2487.4},{"s":"b5","d":"r","i":97.1,"p":2481.6},{"s":"b5","d":"r","i":99.2,"p":2477.5},{"s":"b5","d":"r","i":101.2,"p":2473.4},{"s":"b5","d":"r","i":103.3,"p":2471.7},{"s":"b5","d":"r","i":105.3,"p":2470},{"s":"b5","d":"r","i":108.9,"p":2468.8},
{"s":"b6","d":"g","i":108.9,"p":2468.8},{"s":"b6","d":"g","i":111.9,"p":2467.6},{"s":"b6","d":"g","i":113.5,"p":2469.2},{"s":"b6","d":"g","i":115.5,"p":2471.7},{"s":"b6","d":"g","i":118,"p":2472.6},{"s":"b6","d":"g","i":120.6,"p":2476.2},{"s":"b6","d":"g","i":123.2,"p":2481.6},{"s":"b6","d":"g","i":125.2,"p":2489},{"s":"b6","d":"g","i":127.2,"p":2497.3},{"s":"b6","d":"g","i":130.3,"p":2503.5},{"s":"b6","d":"g","i":132.9,"p":2509.6},{"s":"b6","d":"g","i":137,"p":2512.8},
{"s":"b7","d":"r","i":137,"p":2512.8},{"s":"b7","d":"r","i":139,"p":2509.6},{"s":"b7","d":"r","i":140.5,"p":2506.3},{"s":"b7","d":"r","i":142,"p":2504.8},
{"s":"b8","d":"g","i":142,"p":2504.8},{"s":"b8","d":"g","i":144.1,"p":2507},{"s":"b8","d":"g","i":146.1,"p":2510.5},{"s":"b8","d":"g","i":148.2,"p":2517},{"s":"b8","d":"g","i":150.2,"p":2526},{"s":"b8","d":"g","i":152,"p":2530},{"s":"b8","d":"g","i":154,"p":2536.8},{"s":"b8","d":"g","i":156.3,"p":2542.6},{"s":"b8","d":"g","i":158.4,"p":2543.8},
{"s":"b9","d":"r","i":158.4,"p":2544},{"s":"b9","d":"r","i":159.2,"p":2545.1},{"s":"b9","d":"r","i":160.7,"p":2544.4},{"s":"b9","d":"r","i":162.2,"p":2541},{"s":"b9","d":"r","i":163.8,"p":2536},{"s":"b9","d":"r","i":165.3,"p":2530.4},{"s":"b9","d":"r","i":167.9,"p":2521.3},{"s":"b9","d":"r","i":169.9,"p":2511.5},{"s":"b9","d":"r","i":171.4,"p":2507.3},{"s":"b9","d":"r","i":173,"p":2503.6},{"s":"b9","d":"r","i":174.5,"p":2499},{"s":"b9","d":"r","i":176,"p":2494.6},{"s":"b9","d":"r","i":178,"p":2490.4},
{"s":"b10","d":"g","i":178,"p":2491},{"s":"b10","d":"g","i":180.1,"p":2491.3},{"s":"b10","d":"g","i":182.1,"p":2495},{"s":"b10","d":"g","i":183.7,"p":2496.6},{"s":"b10","d":"g","i":185.5,"p":2496.6},
{"s":"b11","d":"r","i":185.5,"p":2496.6},{"s":"b11","d":"r","i":188.3,"p":2490.4},{"s":"b11","d":"r","i":190.8,"p":2487.6},{"s":"b11","d":"r","i":194,"p":2482.8},
{"s":"b12","d":"g","i":194,"p":2482.8},{"s":"b12","d":"g","i":196.9,"p":2483},{"s":"b12","d":"g","i":199,"p":2490.8},{"s":"b12","d":"g","i":201,"p":2495.4},{"s":"b12","d":"g","i":202,"p":2496.5},
{"s":"b13","d":"r","i":202,"p":2496.5},{"s":"b13","d":"r","i":204.6,"p":2496},
{"s":"b14","d":"g","i":204.6,"p":2496},{"s":"b14","d":"g","i":207.1,"p":2500},{"s":"b14","d":"g","i":209.2,"p":2504},{"s":"b14","d":"g","i":211.2,"p":2505.3},{"s":"b14","d":"g","i":212.2,"p":2505},{"s":"b14","d":"g","i":215,"p":2508},
{"s":"b15","d":"r","i":215,"p":2508},{"s":"b15","d":"r","i":218.4,"p":2504.9},{"s":"b15","d":"r","i":220.4,"p":2500.3},{"s":"b15","d":"r","i":222.4,"p":2493.3},{"s":"b15","d":"r","i":224,"p":2485.9},{"s":"b15","d":"r","i":225.5,"p":2477.6},{"s":"b15","d":"r","i":227.5,"p":2467.8},{"s":"b15","d":"r","i":229.6,"p":2460.4},{"s":"b15","d":"r","i":232.1,"p":2450.9},{"s":"b15","d":"r","i":235.7,"p":2448.9},
{"s":"b16","d":"g","i":235.7,"p":2448.9},{"s":"b16","d":"g","i":238.3,"p":2450.5},{"s":"b16","d":"g","i":241.3,"p":2453.8},{"s":"b16","d":"g","i":243.9,"p":2459.5},{"s":"b16","d":"g","i":246,"p":2463.7},{"s":"b16","d":"g","i":248,"p":2465.6},{"s":"b16","d":"g","i":250,"p":2465.6},
{"s":"b17","d":"r","i":250,"p":2465.6},{"s":"b17","d":"r","i":252,"p":2462.8},{"s":"b17","d":"r","i":255.1,"p":2457.9},{"s":"b17","d":"r","i":258.1,"p":2455.4},{"s":"b17","d":"r","i":260.2,"p":2450.5},{"s":"b17","d":"r","i":261.2,"p":2445.6},{"s":"b17","d":"r","i":263.1,"p":2440.2},{"s":"b17","d":"r","i":265.8,"p":2433.6},{"s":"b17","d":"r","i":267.9,"p":2430},{"s":"b17","d":"r","i":269.4,"p":2428.1},
{"s":"b18","d":"g","i":269.4,"p":2428.1},{"s":"b18","d":"g","i":272.4,"p":2428.7},{"s":"b18","d":"g","i":276,"p":2429.5},{"s":"b18","d":"g","i":277.3,"p":2429.3},
{"s":"b19","d":"r","i":277.3,"p":2429},{"s":"b19","d":"r","i":280.1,"p":2423.3},{"s":"b19","d":"r","i":284.2,"p":2415.1},{"s":"b19","d":"r","i":287.2,"p":2406},{"s":"b19","d":"r","i":290.3,"p":2405.2},
{"s":"b20","d":"g","i":290.3,"p":2405},{"s":"b20","d":"g","i":292.9,"p":2405.5},
{"s":"b21","d":"r","i":292.9,"p":2405.5},{"s":"b21","d":"r","i":296.4,"p":2402.7},{"s":"b21","d":"r","i":300.5,"p":2397},
{"s":"b22","d":"g","i":300.5,"p":2397},{"s":"b22","d":"g","i":303,"p":2397.4},{"s":"b22","d":"g","i":306.1,"p":2401},{"s":"b22","d":"g","i":309.2,"p":2404.4},
{"s":"b23","d":"r","i":309.2,"p":2404.4},{"s":"b23","d":"r","i":311.2,"p":2401},{"s":"b23","d":"r","i":314.3,"p":2394.5},{"s":"b23","d":"r","i":316.8,"p":2386.3},{"s":"b23","d":"r","i":319.1,"p":2378},{"s":"b23","d":"r","i":319.7,"p":2376},{"s":"b23","d":"r","i":321.2,"p":2375.4},
{"s":"b24","d":"g","i":321.2,"p":2375.4},{"s":"b24","d":"g","i":323.3,"p":2377.6},{"s":"b24","d":"g","i":325.3,"p":2382.1},{"s":"b24","d":"g","i":328.4,"p":2388.7},{"s":"b24","d":"g","i":330,"p":2392.9},{"s":"b24","d":"g","i":332,"p":2399.4},{"s":"b24","d":"g","i":334,"p":2402.3},{"s":"b24","d":"g","i":335.5,"p":2403},{"s":"b24","d":"g","i":338,"p":2403},
{"s":"b25","d":"r","i":338,"p":2403},{"s":"b25","d":"r","i":340.6,"p":2401.3},{"s":"b25","d":"r","i":342.6,"p":2401},
{"s":"b26","d":"g","i":342.6,"p":2401},{"s":"b26","d":"g","i":345.2,"p":2402.3},{"s":"b26","d":"g","i":347.2,"p":2406},{"s":"b26","d":"g","i":349.8,"p":2414.3},{"s":"b26","d":"g","i":352.3,"p":2423.3},{"s":"b26","d":"g","i":354.9,"p":2430.8},{"s":"b26","d":"g","i":357.4,"p":2433.2},{"s":"b26","d":"g","i":360,"p":2436.9},{"s":"b26","d":"g","i":363,"p":2438.2},{"s":"b26","d":"g","i":365.6,"p":2437.5},{"s":"b26","d":"g","i":369,"p":2439},{"s":"b26","d":"g","i":371.7,"p":2440},
{"s":"b27","d":"r","i":371.7,"p":2440},{"s":"b27","d":"r","i":376.9,"p":2438.6},{"s":"b27","d":"r","i":380.4,"p":2436.9},{"s":"b27","d":"r","i":382.9,"p":2434.9},
{"s":"b28","d":"g","i":382.9,"p":2434.9},{"s":"b28","d":"g","i":385.5,"p":2435.3},{"s":"b28","d":"g","i":388.6,"p":2438.6},{"s":"b28","d":"g","i":391.6,"p":2442.3},{"s":"b28","d":"g","i":394.2,"p":2450.5},{"s":"b28","d":"g","i":398.7,"p":2456.2},{"s":"b28","d":"g","i":399.7,"p":2458.3},
{"s":"b29","d":"r","i":400.7,"p":2458.3},{"s":"b29","d":"r","i":404,"p":2456.6},{"s":"b29","d":"r","i":406,"p":2453},{"s":"b29","d":"r","i":407,"p":2450.5},{"s":"b29","d":"r","i":409,"p":2447.2},{"s":"b29","d":"r","i":411,"p":2445.2},
{"s":"b30","d":"g","i":411,"p":2445.2},{"s":"b30","d":"g","i":413.1,"p":2447.7},{"s":"b30","d":"g","i":415.6,"p":2450.5},{"s":"b30","d":"g","i":420.7,"p":2463.8}],
"grid":[{"i":8},{"i":17},{"i":26},{"i":35},{"i":44},{"i":53},{"i":62},{"i":71},{"i":80},{"i":89},{"i":98},{"i":107},{"i":116},{"i":125},{"i":134},{"i":143},{"i":152},{"i":161},{"i":170},{"i":179},{"i":188},{"i":197},{"i":206},{"i":215},{"i":224},{"i":233},{"i":242},{"i":251},{"i":260},{"i":269},{"i":278},{"i":287},{"i":296},{"i":305},{"i":314},{"i":323},{"i":332},{"i":341},{"i":350},{"i":359},{"i":368},{"i":377},{"i":386},{"i":395},{"i":404},{"i":413},{"i":429}],
"fib":[{"t":"100.0","p":2554.05,"i":119.9,"i2":429.6},{"t":"88.6","p":2531.06,"i":119.9,"i2":429.6},{"t":"78.6","p":2511.04,"i":119.9,"i2":429.6},{"t":"70.7","p":2495.22,"i":119.9,"i2":429.6},{"t":"61.8","p":2477.42,"i":119.9,"i2":429.6},{"t":"50.0","p":2453.93,"i":119.9,"i2":429.6},{"t":"41.4","p":2436.63,"i":119.9,"i2":429.6},{"t":"38.2","p":2430.2,"i":119.9,"i2":429.6},{"t":"23.6","p":2401.03,"i":119.9,"i2":429.6},{"t":"0.0","p":2353.81,"i":119.9,"i2":429.6}],
"sep":[{"p":2348.86},{"p":2348.37},{"p":2345.9},{"p":2345.4},{"p":2342.93},{"p":2342.44}],
"bid":[{"p":2470}],
"redlines":[{"s":"fibtrend","i":120.2,"p":2353.8},{"s":"fibtrend","i":151,"p":2554},{"s":"upper","i":348.1,"p":2438.6},{"s":"upper","i":421.9,"p":2486.5},{"s":"lower","i":359,"p":2420.1},{"s":"lower","i":429.4,"p":2431.2},{"s":"wolf","i":368.7,"p":2451.3},{"s":"wolf","i":446,"p":2404.8}],
"bluelines":[{"s":"zig","i":359,"p":2420.1},{"s":"zig","i":368.7,"p":2451.3},{"s":"zig","i":374.8,"p":2422.9},{"s":"zig","i":395.2,"p":2469.4},{"s":"zig","i":407.2,"p":2428.1},{"s":"zig","i":420,"p":2478},{"s":"zig","i":445,"p":2405.6},{"s":"arrow","i":438.1,"p":2413.3},{"s":"arrow","i":445,"p":2405.6},{"s":"arrow","i":448,"p":2414.9}],
"bluetext":[{"t":"Megafon + wolf ciekawe połączenie","i":377.9,"p":2507.2},{"t":"1","i":365.8,"p":2456},{"t":"3","i":395.9,"p":2475.3},{"t":"5???","i":427.9,"p":2482.7},{"t":"2","i":375.9,"p":2418.9},{"t":"4","i":406.9,"p":2423.2},{"t":"wolf ???","i":443.9,"p":2400.1}],
"info":[{"t":"FPL20,H1  2469 2470 2468 2470","i":3.7,"p":2562.4},{"t":"DOSSAFX, © 2001-2014, MetaQuotes Software Corp.","i":1,"p":2342.3}],
"marker":[{"i":1.7,"p":2562.3}],
"box":[{"i":468.7,"i2":475.7,"p":2468.8,"p2":2471.5}],
"boxtext":[{"t":"2470","i":469.6,"p":2470.3}]
},
"encoding":{"x":{"field":"i","type":"quantitative","scale":{"domain":[-0.25,468.375],"nice":false,"zero":false,"padding":0},"axis":{"title":null,"grid":false,"domain":false,"values":[0,16,32,48,64,80,96,112,128,144,160,176,192,208,224,240,256,272,288,304,320,336,352,368,384,400,416],"labelExpr":"{'0':'28 Aug 2014','16':'29 Aug 16:45','32':'2 Sep 14:45','48':'4 Sep 12:45','64':'8 Sep 10:45','80':'10 Sep 08:45','96':'11 Sep 15:45','112':'15 Sep 13:45','128':'17 Sep 11:45','144':'19 Sep 09:45','160':'22 Sep 16:45','176':'24 Sep 14:45','192':'26 Sep 12:45','208':'30 Sep 10:45','224':'2 Oct 08:45','240':'3 Oct 15:45','256':'7 Oct 13:45','272':'9 Oct 11:45','288':'13 Oct 09:45','304':'14 Oct 16:45','320':'16 Oct 14:45','336':'20 Oct 12:45','352':'22 Oct 10:45','368':'24 Oct 08:45','384':'27 Oct 15:45','400':'29 Oct 13:45','416':'31 Oct 11:45'}[''+datum.value]","labelAlign":"left","labelBaseline":"top","labelFont":"Liberation Sans","labelFontSize":9.6,"labelColor":"#000000","labelPadding":1,"labelOffset":-1,"labelFlush":false,"labelBound":false,"labelOverlap":false,"tickSize":3,"tickColor":"#000000","tickWidth":1,"orient":"bottom"}},"y":{"field":"p","type":"quantitative","scale":{"domain":[2340.46,2564.44],"nice":false,"zero":false},"axis":{"title":null,"grid":false,"domain":false,"orient":"right","values":[2354,2364,2374,2384,2394,2404,2414,2424,2434,2444,2454,2464,2474,2484,2494,2504,2514,2524,2534,2544,2554],"format":"d","labelFont":"Liberation Sans","labelFontSize":9,"labelColor":"#000000","labelPadding":2,"labelOffset":-1,"labelOverlap":false,"labelFlush":false,"labelBound":false,"tickSize":3,"tickColor":"#000000","tickWidth":1}}},
"layer":[
{"data":{"name":"grid"},"mark":{"type":"rule","color":"#000000","strokeWidth":1,"strokeDash":[3,3]},"encoding":{"y":null}},
{"data":{"name":"bid"},"mark":{"type":"rule","color":"#c0c0c0","strokeWidth":1},"encoding":{"x":null}},
{"data":{"name":"sep"},"mark":{"type":"rule","color":"#000000","strokeWidth":1},"encoding":{"x":null}},
{"data":{"name":"candles"},"mark":{"type":"rule","color":"#000000","strokeWidth":1},"encoding":{"y":{"field":"l","type":"quantitative"},"y2":{"field":"h"}}},
{"data":{"name":"candles"},"mark":{"type":"bar","size":2,"stroke":"#000000","strokeWidth":1,"orient":"vertical"},"encoding":{"y":{"field":"o","type":"quantitative"},"y2":{"field":"c"},"fill":{"condition":{"test":"datum.c>=datum.o","value":"#ffffff"},"value":"#000000"}}},
{"data":{"name":"ma"},"mark":{"type":"line","strokeWidth":1,"interpolate":"linear"},"encoding":{"detail":{"field":"s","type":"nominal"},"color":{"field":"d","type":"nominal","scale":{"domain":["r","g"],"range":["#ff0000","#008000"]},"legend":null}}},
{"data":{"name":"fib"},"mark":{"type":"rule","color":"#ff0000","strokeWidth":1,"strokeDash":[3,2]},"encoding":{"x2":{"field":"i2"}}},
{"data":{"name":"fib"},"mark":{"type":"text","color":"#ff0000","align":"right","baseline":"middle","dy":-6,"font":"Liberation Sans","fontSize":9},"encoding":{"x":{"field":"i2","type":"quantitative"},"text":{"field":"t"}}},
{"data":{"name":"redlines"},"mark":{"type":"line","color":"#ff0000","strokeWidth":2.3},"encoding":{"detail":{"field":"s","type":"nominal"}}},
{"data":{"name":"bluelines"},"mark":{"type":"line","color":"#0000ff","strokeWidth":2},"encoding":{"detail":{"field":"s","type":"nominal"}}},
{"data":{"name":"bluetext"},"mark":{"type":"text","color":"#0000ff","align":"center","baseline":"middle","font":"Liberation Sans","fontSize":21},"encoding":{"text":{"field":"t"}}},
{"data":{"name":"info"},"mark":{"type":"text","color":"#000000","align":"left","baseline":"middle","font":"Liberation Sans","fontSize":9.4},"encoding":{"text":{"field":"t"}}},
{"data":{"name":"marker"},"mark":{"type":"point","shape":"triangle-down","filled":true,"color":"#000000","size":28,"opacity":1}},
{"data":{"name":"box"},"mark":{"type":"rect","color":"#000000"},"encoding":{"x2":{"field":"i2"},"y2":{"field":"p2"}}},
{"data":{"name":"boxtext"},"mark":{"type":"text","color":"#ffffff","align":"left","baseline":"middle","font":"Liberation Sans","fontSize":9.5,"fontWeight":"bold"},"encoding":{"text":{"field":"t"}}}
]}
